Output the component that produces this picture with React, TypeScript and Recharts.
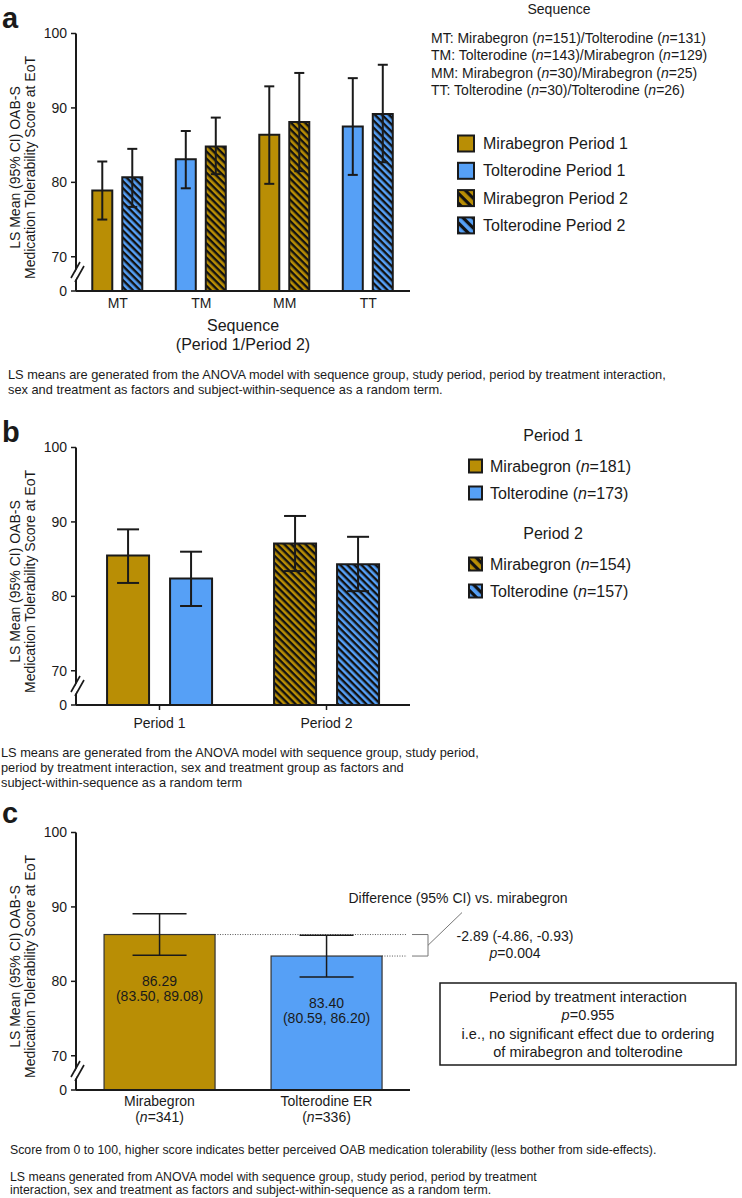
import React from "react";
import { BarChart, Bar, XAxis, YAxis, ErrorBar, Cell, ReferenceArea } from "recharts";

const GOLD = "#B98E05";
const BLUE = "#56A0F6";
const INK = "#1a1a1a";
const FONT = "'Liberation Sans', Arial, Helvetica, sans-serif";

// panel a – sequence groups
const sequences = ["MT", "TM", "MM", "TT"];
const period1Drug = ["M", "T", "M", "T"];
const period2Drug = ["T", "M", "M", "T"];
const period1Mean = [78.9, 83.1, 86.4, 87.5];
const period1Low = [75.0, 79.2, 79.8, 81.0];
const period1High = [82.8, 86.9, 92.9, 94.0];
const period2Mean = [80.7, 84.8, 88.1, 89.2];
const period2Low = [76.7, 81.1, 81.5, 82.7];
const period2High = [84.5, 88.7, 94.7, 95.8];
const sequenceN1 = [151, 143, 30, 30];
const sequenceN2 = [131, 129, 25, 26];
const legendA = ["Mirabegron Period 1", "Tolterodine Period 1", "Mirabegron Period 2", "Tolterodine Period 2"];

// panel b – by period
const periods = ["Period 1", "Period 2"];
const miraMean = [85.5, 87.1];
const miraLow = [81.8, 83.4];
const miraHigh = [89.0, 90.8];
const toltMean = [82.4, 84.3];
const toltLow = [78.7, 80.7];
const toltHigh = [86.0, 88.0];
const miraN = [181, 154];
const toltN = [173, 157];

// panel c – pooled
const treatments = ["Mirabegron", "Tolterodine ER"];
const treatmentN = [341, 336];
const lsMean = [86.29, 83.4];
const ciLow = [83.5, 80.59];
const ciHigh = [89.08, 86.2];
const diffEstimate = [-2.89, -4.86, -0.93];
const diffP = 0.004;
const interactionP = 0.955;

const drugName = (d: string) => (d === "M" ? "Mirabegron" : "Tolterodine");

// broken axis: 0 .. 70 squeezed into a small gap
const BRK = 4.6;
const toAxis = (v: number) => (v >= 70 ? v - 70 + BRK : (v / 70) * BRK);
const yTickValues = [0, 70, 80, 90, 100];
const yTicks = yTickValues.map(toAxis);
const Y_DOMAIN = [0, toAxis(100)];

const dataA = sequences.map((seq, i) => ({
	seq,
	p1: toAxis(period1Mean[i]),
	p1Err: [period1Mean[i] - period1Low[i], period1High[i] - period1Mean[i]],
	p2: toAxis(period2Mean[i]),
	p2Err: [period2Mean[i] - period2Low[i], period2High[i] - period2Mean[i]],
}));

const dataB = periods.map((p, i) => ({
	period: p,
	mira: toAxis(miraMean[i]),
	miraErr: [miraMean[i] - miraLow[i], miraHigh[i] - miraMean[i]],
	tolt: toAxis(toltMean[i]),
	toltErr: [toltMean[i] - toltLow[i], toltHigh[i] - toltMean[i]],
}));

const dataC = treatments.map((t, i) => ({
	treatment: t,
	mean: toAxis(lsMean[i]),
	err: [lsMean[i] - ciLow[i], ciHigh[i] - lsMean[i]],
}));

const C_GAP = 0.168;

const solid = (d: string) => (d === "M" ? GOLD : BLUE);
const hatched = (d: string) => (d === "M" ? "url(#hatchGold)" : "url(#hatchBlue)");

const axisLine = { stroke: INK, strokeWidth: 2 };
const tickLine = { stroke: INK, strokeWidth: 1.5 };

const YTick = (props: any) => {
	const { x, y, payload } = props;
	const i = yTicks.findIndex((t) => Math.abs(t - payload.value) < 1e-6);
	const ax = x + 9;
	return (
		<g>
			<text x={x} y={y} dy="0.35em" textAnchor="end" fontSize={14} fill={INK} fontFamily={FONT}>
				{yTickValues[i]}
			</text>
			{yTickValues[i] === 0 && (
				<g>
					<line x1={ax - 3} y1={y - 11} x2={ax + 6} y2={y - 27} stroke="#fff" strokeWidth={4} />
					<line x1={ax - 5} y1={y - 13} x2={ax + 4} y2={y - 29} stroke={INK} strokeWidth={1.6} />
					<line x1={ax - 1} y1={y - 9} x2={ax + 8} y2={y - 25} stroke={INK} strokeWidth={1.6} />
				</g>
			)}
		</g>
	);
};

const TreatmentTick = (props: any) => {
	const { x, y, payload } = props;
	const i = treatments.indexOf(payload.value);
	return (
		<g fontFamily={FONT} fontSize={14} fill={INK}>
			<text x={x} y={y + 11} dy="0.35em" textAnchor="middle">
				{payload.value}
			</text>
			<text x={x} y={y + 27} dy="0.35em" textAnchor="middle">
				(<tspan fontStyle="italic">n</tspan>={treatmentN[i]})
			</text>
		</g>
	);
};

const LabeledBar = (props: any) => {
	const { x, y, width, height, index } = props;
	const cx = x + width / 2;
	return (
		<g>
			<rect x={x} y={y} width={width} height={height} fill={index === 0 ? GOLD : BLUE} stroke="#333" strokeWidth={1.2} />
			<text x={cx} y={y + 47} dy="0.35em" textAnchor="middle" fontSize={14} fill={INK} fontFamily={FONT}>
				{lsMean[index].toFixed(2)}
			</text>
			<text x={cx} y={y + 62} dy="0.35em" textAnchor="middle" fontSize={14} fill={INK} fontFamily={FONT}>
				({ciLow[index].toFixed(2)}, {ciHigh[index].toFixed(2)})
			</text>
		</g>
	);
};

const DiffBracket = (props: any) => {
	const { x, y, width, height } = props;
	const band = width / treatments.length;
	const goldRight = x + band * (1 - C_GAP);
	const blueRight = x + width - band * C_GAP;
	const right = x + width;
	const top = y;
	const bot = y + height;
	const mid = (top + bot) / 2;
	return (
		<g fontFamily={FONT} fontSize={14} fill={INK}>
			<line x1={goldRight} y1={top} x2={right - 3} y2={top} stroke="#555" strokeWidth={1} strokeDasharray="1 1.5" />
			<line x1={blueRight} y1={bot} x2={right - 3} y2={bot} stroke="#555" strokeWidth={1} strokeDasharray="1 1.5" />
			<polyline
				points={`${right + 2},${top} ${right + 18},${top} ${right + 18},${bot} ${right + 2},${bot}`}
				fill="none"
				stroke="#777"
				strokeWidth={1}
			/>
			<line x1={right + 18} y1={mid} x2={right + 52} y2={top - 22} stroke="#777" strokeWidth={1} />
			<text x={right + 48} y={top - 36} dy="0.35em" textAnchor="middle">
				Difference (95% CI) vs. mirabegron
			</text>
			<text x={right + 105} y={top + 2} dy="0.35em" textAnchor="middle">
				{diffEstimate[0].toFixed(2)} ({diffEstimate[1].toFixed(2)}, {diffEstimate[2].toFixed(2)})
			</text>
			<text x={right + 105} y={bot - 3} dy="0.35em" textAnchor="middle">
				<tspan fontStyle="italic">p</tspan>={diffP.toFixed(3)}
			</text>
		</g>
	);
};

const T = ({ x, y, size = 14, anchor = "start", children }: any) => (
	<text x={x} y={y} dy="0.35em" fontSize={size} textAnchor={anchor} fill={INK} fontFamily={FONT}>
		{children}
	</text>
);

const YLabel = ({ cy }: { cy: number }) => (
	<g transform={`translate(22.5, ${cy}) rotate(-90)`}>
		<T x={0} y={-7.5} anchor="middle">
			LS Mean (95% CI) OAB-S
		</T>
		<T x={0} y={7.5} anchor="middle">
			Medication Tolerability Score at EoT
		</T>
	</g>
);

const Swatch = ({ x, cy, size, fill }: any) => (
	<rect x={x} y={cy - size / 2} width={size} height={size} fill={fill} stroke={INK} strokeWidth={2} />
);

const App = () => {
	return (
		<div style={{ position: "absolute", left: 0, top: 0, width: 742, height: 1198, background: "#fff", fontFamily: FONT }}>
			<svg width={0} height={0} style={{ position: "absolute" }}>
				<defs>
					<pattern id="hatchGold" patternUnits="userSpaceOnUse" width={5} height={5} patternTransform="rotate(45)">
						<rect width={5} height={5} fill={GOLD} />
						<rect width={5} height={2.4} fill="#111" />
					</pattern>
					<pattern id="hatchBlue" patternUnits="userSpaceOnUse" width={5} height={5} patternTransform="rotate(45)">
						<rect width={5} height={5} fill={BLUE} />
						<rect width={5} height={2.4} fill="#111" />
					</pattern>
					<pattern id="hatchGoldBig" patternUnits="userSpaceOnUse" width={7} height={7} patternTransform="rotate(45)">
						<rect width={7} height={7} fill={GOLD} />
						<rect width={7} height={3.2} fill="#111" />
					</pattern>
					<pattern id="hatchBlueBig" patternUnits="userSpaceOnUse" width={7} height={7} patternTransform="rotate(45)">
						<rect width={7} height={7} fill={BLUE} />
						<rect width={7} height={3.2} fill="#111" />
					</pattern>
				</defs>
			</svg>

			{/* a */}
			<div style={{ position: "absolute", left: 0, top: 0 }}>
				<BarChart width={420} height={320} data={dataA} margin={{ top: 33.5, right: 10, bottom: 0, left: 16 }} barGap={10} barCategoryGap="19.5%">
					<XAxis dataKey="seq" height={29} tickSize={4} tickMargin={3} axisLine={axisLine} tickLine={false} tick={{ fontSize: 14, fill: INK, fontFamily: FONT }} />
					<YAxis type="number" domain={Y_DOMAIN} ticks={yTicks} interval={0} width={60} tickSize={5} tickMargin={4} axisLine={axisLine} tickLine={tickLine} tick={YTick} />
					<Bar dataKey="p1" stroke={INK} strokeWidth={2} isAnimationActive={false}>
						{sequences.map((s, i) => (
							<Cell key={s} fill={solid(period1Drug[i])} />
						))}
						<ErrorBar dataKey="p1Err" direction="y" width={5} stroke={INK} strokeWidth={2} />
					</Bar>
					<Bar dataKey="p2" stroke={INK} strokeWidth={2} isAnimationActive={false}>
						{sequences.map((s, i) => (
							<Cell key={s} fill={hatched(period2Drug[i])} />
						))}
						<ErrorBar dataKey="p2Err" direction="y" width={5} stroke={INK} strokeWidth={2} />
					</Bar>
				</BarChart>
			</div>

			{/* b */}
			<div style={{ position: "absolute", left: 0, top: 414 }}>
				<BarChart width={420} height={320} data={dataB} margin={{ top: 33.5, right: 10, bottom: 0, left: 16 }} barGap={21} barCategoryGap="18.6%">
					<XAxis dataKey="period" height={29} tickSize={5} tickMargin={8} axisLine={axisLine} tickLine={tickLine} tick={{ fontSize: 14, fill: INK, fontFamily: FONT }} />
					<YAxis type="number" domain={Y_DOMAIN} ticks={yTicks} interval={0} width={60} tickSize={5} tickMargin={4} axisLine={axisLine} tickLine={tickLine} tick={YTick} />
					<Bar dataKey="mira" stroke={INK} strokeWidth={2} isAnimationActive={false}>
						{periods.map((p, i) => (
							<Cell key={p} fill={i === 0 ? solid("M") : hatched("M")} />
						))}
						<ErrorBar dataKey="miraErr" direction="y" width={11} stroke={INK} strokeWidth={2} />
					</Bar>
					<Bar dataKey="tolt" stroke={INK} strokeWidth={2} isAnimationActive={false}>
						{periods.map((p, i) => (
							<Cell key={p} fill={i === 0 ? solid("T") : hatched("T")} />
						))}
						<ErrorBar dataKey="toltErr" direction="y" width={11} stroke={INK} strokeWidth={2} />
					</Bar>
				</BarChart>
			</div>

			{/* c */}
			<div style={{ position: "absolute", left: 0, top: 799 }}>
				<BarChart width={742} height={345} data={dataC} margin={{ top: 33.5, right: 332, bottom: 0, left: 16 }} barCategoryGap={`${C_GAP * 100}%`}>
					<XAxis dataKey="treatment" height={54} tickSize={0} tickMargin={0} tickLine={false} axisLine={axisLine} tick={TreatmentTick} />
					<YAxis type="number" domain={Y_DOMAIN} ticks={yTicks} interval={0} width={60} tickSize={5} tickMargin={4} axisLine={axisLine} tickLine={tickLine} tick={YTick} />
					<ReferenceArea y1={toAxis(lsMean[1])} y2={toAxis(lsMean[0])} shape={DiffBracket} />
					<Bar dataKey="mean" shape={LabeledBar} isAnimationActive={false}>
						<ErrorBar dataKey="err" direction="y" width={27} stroke={INK} strokeWidth={1.5} />
					</Bar>
				</BarChart>
			</div>

			{/* text overlay */}
			<svg width={742} height={1198} style={{ position: "absolute", left: 0, top: 0, pointerEvents: "none" }}>
				<g fontFamily={FONT} fontWeight="bold" fontSize={29} fill={INK}>
					<text x={2} y={28}>a</text>
					<text x={2} y={441.5}>b</text>
					<text x={2} y={823}>c</text>
				</g>

				<YLabel cy={167.5} />
				<YLabel cy={581.5} />
				<YLabel cy={966.5} />

				{/* a: axis title, sequence key, legend, note */}
				<T x={243} y={325} size={16} anchor="middle">Sequence</T>
				<T x={243} y={344.3} size={16} anchor="middle">(Period 1/Period 2)</T>
				<T x={559} y={9} anchor="middle">Sequence</T>
				{sequences.map((s, i) => (
					<T key={s} x={431} y={38 + i * 17.3}>
						{s}: {drugName(period1Drug[i])} (<tspan fontStyle="italic">n</tspan>={sequenceN1[i]})/{drugName(period2Drug[i])} (
						<tspan fontStyle="italic">n</tspan>={sequenceN2[i]})
					</T>
				))}
				{legendA.map((l, i) => {
					const d = i % 2 === 0 ? "M" : "T";
					const fill = i < 2 ? solid(d) : d === "M" ? "url(#hatchGoldBig)" : "url(#hatchBlueBig)";
					const cy = 143.5 + i * 27.3;
					return (
						<g key={l}>
							<Swatch x={458} cy={cy} size={16} fill={fill} />
							<T x={483} y={cy} size={16}>{l}</T>
						</g>
					);
				})}
				<T x={8} y={375} size={12.8}>
					LS means are generated from the ANOVA model with sequence group, study period, period by treatment interaction,
				</T>
				<T x={8} y={390} size={12.8}>
					sex and treatment as factors and subject-within-sequence as a random term.
				</T>

				{/* b: legend, note */}
				{periods.map((p, k) => {
					const base = k === 0 ? 435 : 533;
					return (
						<g key={p}>
							<T x={553} y={base} size={16} anchor="middle">{p}</T>
							<Swatch x={469} cy={base + 31} size={13} fill={k === 0 ? solid("M") : "url(#hatchGoldBig)"} />
							<T x={490} y={base + 31} size={16}>
								Mirabegron (<tspan fontStyle="italic">n</tspan>={miraN[k]})
							</T>
							<Swatch x={469} cy={base + 58} size={13} fill={k === 0 ? solid("T") : "url(#hatchBlueBig)"} />
							<T x={490} y={base + 58} size={16}>
								Tolterodine (<tspan fontStyle="italic">n</tspan>={toltN[k]})
							</T>
						</g>
					);
				})}
				<T x={1} y={753} size={12.8}>LS means are generated from the ANOVA model with sequence group, study period,</T>
				<T x={1} y={768} size={12.8}>period by treatment interaction, sex and treatment group as factors and</T>
				<T x={1} y={783} size={12.8}>subject-within-sequence as a random term</T>

				{/* c: interaction box, notes */}
				<rect x={440} y={983} width={296} height={82} fill="#fff" stroke={INK} strokeWidth={1.5} />
				<T x={588} y={997} size={14.5} anchor="middle">Period by treatment interaction</T>
				<T x={588} y={1015.3} size={14.5} anchor="middle">
					<tspan fontStyle="italic">p</tspan>={interactionP.toFixed(3)}
				</T>
				<T x={588} y={1033.6} size={14.5} anchor="middle">i.e., no significant effect due to ordering</T>
				<T x={588} y={1051.9} size={14.5} anchor="middle">of mirabegron and tolterodine</T>
				<T x={10} y={1150} size={12.3}>
					Score from 0 to 100, higher score indicates better perceived OAB medication tolerability (less bother from side-effects).
				</T>
				<T x={10} y={1176.7} size={12.3}>
					LS means generated from ANOVA model with sequence group, study period, period by treatment
				</T>
				<T x={10} y={1190} size={12.3}>
					interaction, sex and treatment as factors and subject-within-sequence as a random term.
				</T>
			</svg>
		</div>
	);
};

export default App;
